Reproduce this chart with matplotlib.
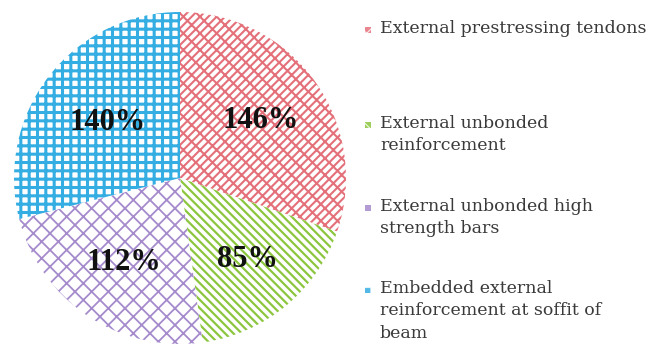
import matplotlib
matplotlib.use("Agg")
import matplotlib.pyplot as plt
import numpy as np
from matplotlib.patches import Rectangle

categories = ["External prestressing tendons",
              "External unbonded\nreinforcement",
              "External unbonded high\nstrength bars",
              "Embedded external\nreinforcement at soffit of\nbeam"]
values = [146, 85, 112, 140]
value_labels = ["146%", "85%", "112%", "140%"]

colors = ["#e4707a", "#8cc63e", "#a58bcc", "#34ade2"]
hatches = ["////\\\\", "\\\\\\\\", "xx", "++"]
hatch_lw = [1.5, 1.6, 1.3, 2.2]

W, H = 649, 358
fig = plt.figure(figsize=(W/100, H/100), dpi=100)
cx, cy, r = 180, 178, 166
pad = 1.03
ax = fig.add_axes([(cx - r*pad)/W, (H - cy - r*pad)/H, 2*r*pad/W, 2*r*pad/H])
ax.axis("off")

wedges, _ = ax.pie(values, startangle=90, counterclock=False, radius=1.0,
                   wedgeprops=dict(linewidth=0))
for w, c, h, lw in zip(wedges, colors, hatches, hatch_lw):
    w.set_facecolor("white")
    w.set_edgecolor(c)
    w.set_hatch(h)
    if hasattr(w, "set_hatch_linewidth"):
        w.set_hatch_linewidth(lw)
ax.set_xlim(-pad, pad); ax.set_ylim(-pad, pad)
ax.set_aspect("equal")

dists = [0.6, 0.64, 0.61, 0.55]
for w, lab, d in zip(wedges, value_labels, dists):
    ang = np.deg2rad((w.theta1 + w.theta2) / 2)
    ax.text(d*np.cos(ang), d*np.sin(ang), lab, ha="center", va="center",
            fontsize=22, fontweight="bold", family="Liberation Serif", color="#111111")

# legend
first_line_y = [30, 125, 208, 290]
for cat, c, h, y in zip(categories, colors, hatches, first_line_y):
    p = Rectangle((365/W, 1 - (y + 3)/H), 6/W, 6/H, transform=fig.transFigure,
                  facecolor=c, edgecolor="white", hatch=h, linewidth=0, alpha=0.85)
    if hasattr(p, "set_hatch_linewidth"):
        p.set_hatch_linewidth(0.8)
    fig.add_artist(p)
    fig.text(380/W, 1 - (y - 10)/H, cat, ha="left", va="top", fontsize=12.5,
             family="DejaVu Serif", color="#3a3a3a", linespacing=1.42)

fig.savefig("out.png", dpi=100)
